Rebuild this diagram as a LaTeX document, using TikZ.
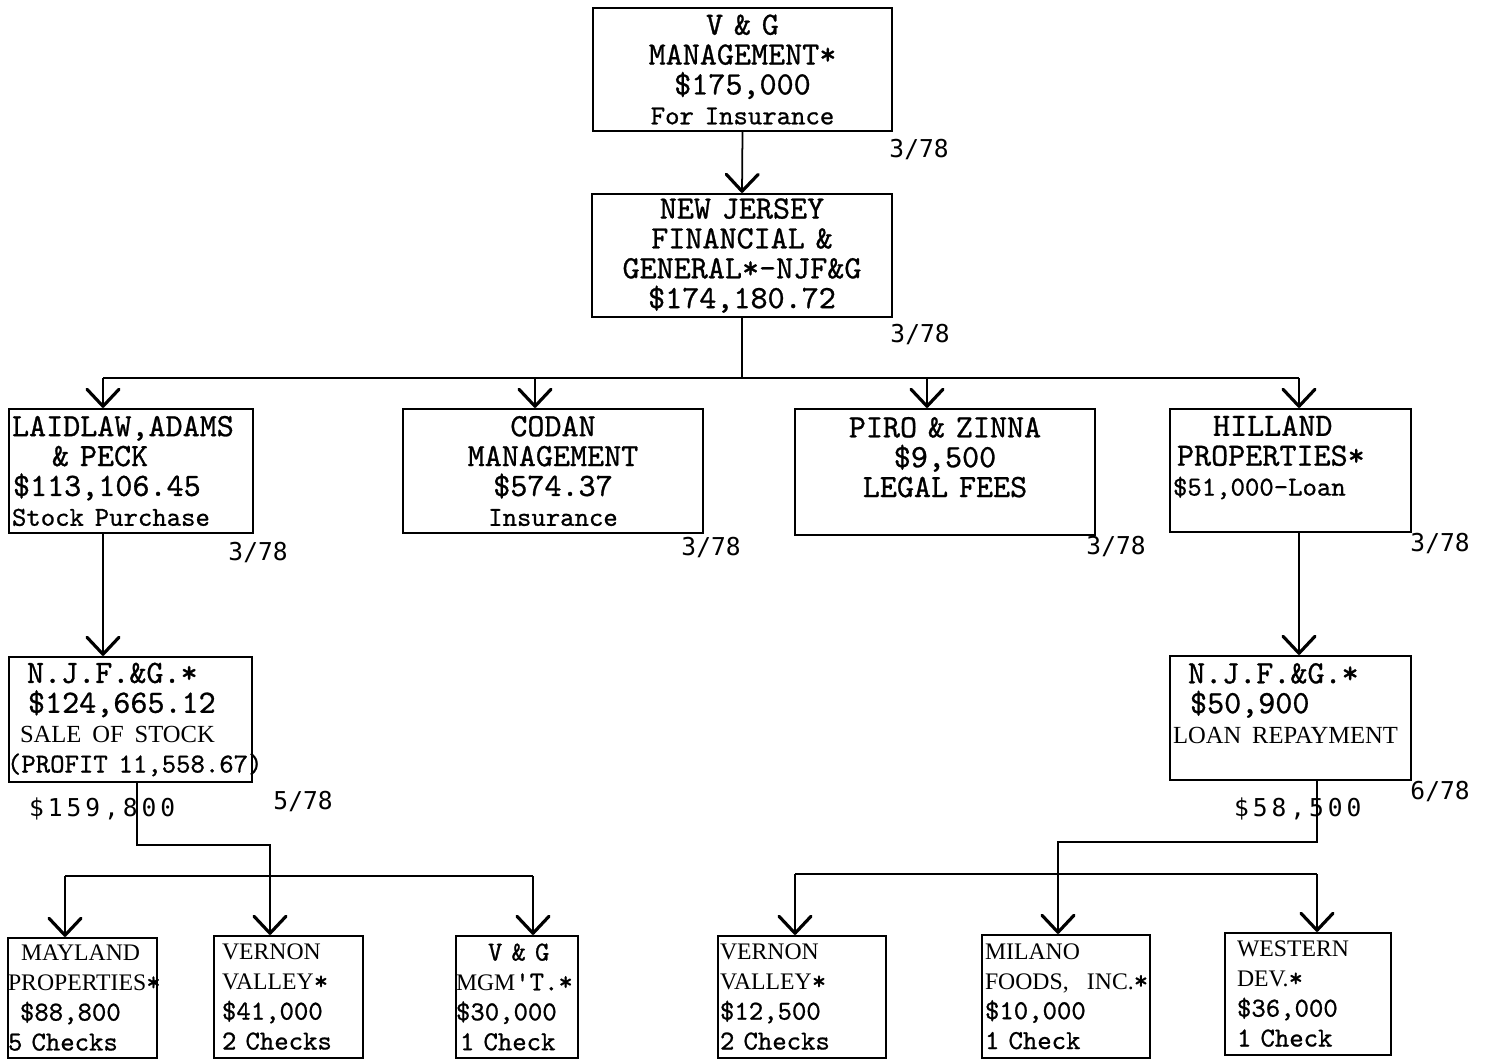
\documentclass[tikz,border=0pt]{standalone}
\usepackage{fontspec}
\setmainfont{Liberation Serif}
\newfontfamily\typefam{lmmono10-regular}[Extension=.otf, FakeBold=0.8]
\newfontfamily\gothicfam{DejaVu Sans Mono}
\newfontfamily\gothicwide[LetterSpace=16]{DejaVu Sans Mono}
\usetikzlibrary{arrows.meta,positioning}
\newcommand{\tw}{\typefam\fontsize{18.5}{17}\selectfont}
\newcommand{\ts}{\typefam\fontsize{15.6}{17}\selectfont}
\newcommand{\sr}{\rmfamily\fontsize{14}{17}\selectfont}
\newcommand{\srs}{\rmfamily\fontsize{13.5}{17}\selectfont}
\newcommand{\datefont}{\gothicfam\fontsize{14}{14}\selectfont}
\newcommand{\sumfont}{\gothicwide\fontsize{14}{14}\selectfont}
\newcommand{\pad}[1]{\hspace*{#1mm}}
\hyphenpenalty=10000
\exhyphenpenalty=10000
\lineskiplimit=-6pt

\begin{document}
\begin{tikzpicture}[x=0.02cm, y=-0.02cm, font=\tw,
      box/.style={draw, line width=1.3pt, inner sep=0pt, align=left},
      date/.style={font=\datefont, inner sep=0pt},
      sum/.style={font=\sumfont, inner sep=0pt},
      conn/.style={line width=1pt},
      arr/.style={line width=1pt, -{Straight Barb[length=3.4mm, width=6.4mm, line width=1.8pt, round]}}]
    \useasboundingbox (0,0) rectangle (1486,1060);

    \node[box, align=center, text width=5.98cm, minimum height=2.46cm] (vg) at (742.5,69.5)
      {V~\&~G\\ MANAGEMENT*\\ \$175,000\\ {\ts For~Insurance}};
    \node[box, align=center, text width=6cm, minimum height=2.46cm] (njfg) at (742,255.5)
      {NEW~JERSEY\\ FINANCIAL~\&\\ GENERAL*-NJF\&G\\ \$174,180.72};

    \node[box, text width=4.88cm, minimum height=2.48cm] (lap) at (131,471)
      {\pad{0.6}LAIDLAW,ADAMS\\ \pad{8.6}\&~PECK\\ \pad{0.8}\$113,106.45\\ \pad{0.6}{\ts Stock~Purchase}};
    \node[box, align=center, text width=6cm, minimum height=2.48cm] (codan) at (553,471)
      {CODAN\\ MANAGEMENT\\ \$574.37\\ {\ts Insurance}};
    \node[box, align=center, text width=6cm, minimum height=2.52cm] (piro) at (945,472)
      {PIRO~\&~ZINNA\\ \$9,500\\ LEGAL~FEES\\ \mbox{}};
    \node[box, text width=4.82cm, minimum height=2.46cm] (hill) at (1290.5,470.5)
      {\pad{8.6}HILLAND\\ \pad{1.4}PROPERTIES*\\ \pad{0.6}{\ts\$51,000-Loan}\\ \mbox{}};

    \node[box, text width=4.86cm, minimum height=2.5cm] (njfga) at (130.5,719.5)
      {\pad{3.6}N.J.F.\&G.*\\ \pad{3.8}\$124,665.12\\ \pad{2.2}{\sr SALE~OF~STOCK}\\ \pad{-0.4}{\ts(PROFIT~11,558.67)}};
    \node[box, text width=4.82cm, minimum height=2.48cm] (njfgb) at (1290.5,718)
      {\pad{3.6}N.J.F.\&G.*\\ \pad{4}\$50,900\\ \pad{0.6}{\sr LOAN~REPAYMENT}\\ \mbox{}};

    \begin{scope}[every node/.append style={font=\ts}]
      \node[box, text width=2.98cm, minimum height=2.4cm] (may) at (82.5,998)
        {\pad{2.6}{\srs MAYLAND}\\ {\srs PROPERTIES}*\\ \pad{2.4}\$88,800\\ 5~Checks};
      \node[box, text width=2.98cm, minimum height=2.44cm] (vv1) at (288.5,997)
        {\pad{1.6}{\srs VERNON}\\ \pad{1.6}{\srs VALLEY}*\\ \pad{1.6}\$41,000\\ \pad{1.6}2~Checks};
      \node[box, text width=2.44cm, minimum height=2.44cm] (vgm) at (517,997)
        {\pad{6.4}V~\&~G\\ {\srs MGM}'T.*\\ \$30,000\\ \pad{0.8}1~Check};
      \node[box, text width=3.36cm, minimum height=2.44cm] (vv2) at (802,997)
        {\pad{0.4}{\srs VERNON}\\ \pad{0.4}{\srs VALLEY}*\\ \pad{0.4}\$12,500\\ \pad{0.4}2~Checks};
      \node[box, text width=3.36cm, minimum height=2.46cm] (mil) at (1066,996.5)
        {\pad{0.6}{\srs MILANO}\\ \pad{0.6}{\srs FOODS,~~INC.}*\\ \pad{0.6}\$10,000\\ \pad{0.6}1~Check};
      \node[box, text width=3.32cm, minimum height=2.44cm] (wes) at (1308,994)
        {\pad{2.4}{\srs WESTERN}\\ \pad{2.4}{\srs DEV.}*\\ \pad{2.4}\$36,000\\ \pad{2.4}1~Check};
    \end{scope}

    \node[date, below right=1.4mm and -0.8mm of vg.south east] (d1) {3/78};
    \node[date, below right=1.2mm and -0.6mm of njfg.south east] (d2) {3/78};
    \node[date, below right=1.6mm and -5.2mm of lap.south east] (d3) {3/78};
    \node[date, below right=0.6mm and -4.6mm of codan.south east] (d4) {3/78};
    \node[date, below right=0mm and -2mm of piro.south east] (d5) {3/78};
    \node[date, below right=0mm and -0.4mm of hill.south east] (d6) {3/78};
    \node[date, below right=1.6mm and 4mm of njfga.south east] (d7) {5/78};
    \node[date, below right=0mm and -0.4mm of njfgb.south east] (d8) {6/78};
    \node[sum, below right=2.8mm and 4.2mm of njfga.south west] (s1) {\$159,800};
    \node[sum, below right=3.2mm and 13mm of njfgb.south west] (s2) {\$58,500};

    \draw[arr] (vg.south) -- (njfg.north);
    \coordinate (b1) at (103,378);
    \coordinate (b2) at (535,378);
    \coordinate (b3) at (927,378);
    \coordinate (b4) at (1299,378);
    \draw[conn] (njfg.south) -- (njfg.south |- b1);
    \draw[conn] (b1) -- (b4);
    \foreach \b/\n in {b1/lap, b2/codan, b3/piro, b4/hill}
      \draw[arr] (\b) -- (\b |- \n.north);
    \draw[arr] (lap.south -| b1) -- (njfga.north -| b1);
    \draw[arr] (hill.south -| b4) -- (njfgb.north -| b4);

    \coordinate (l0) at (137,845);
    \coordinate (l1) at (270,845);
    \coordinate (m1) at (65,876);
    \coordinate (m2) at (270,876);
    \coordinate (m3) at (533,876);
    \draw[conn] (njfga.south -| l0) -- (l0) -- (l1) -- (m2);
    \draw[conn] (m1) -- (m3);
    \foreach \m/\n in {m1/may, m2/vv1, m3/vgm}
      \draw[arr] (\m) -- (\m |- \n.north);

    \coordinate (r0) at (1317,842);
    \coordinate (r1) at (1058,842);
    \coordinate (n1) at (795,874);
    \coordinate (n2) at (1058,874);
    \coordinate (n3) at (1317,874);
    \draw[conn] (njfgb.south -| r0) -- (r0) -- (r1) -- (n2);
    \draw[conn] (n1) -- (n3);
    \foreach \m/\n in {n1/vv2, n2/mil, n3/wes}
      \draw[arr] (\m) -- (\m |- \n.north);
  \end{tikzpicture}
\end{document}
